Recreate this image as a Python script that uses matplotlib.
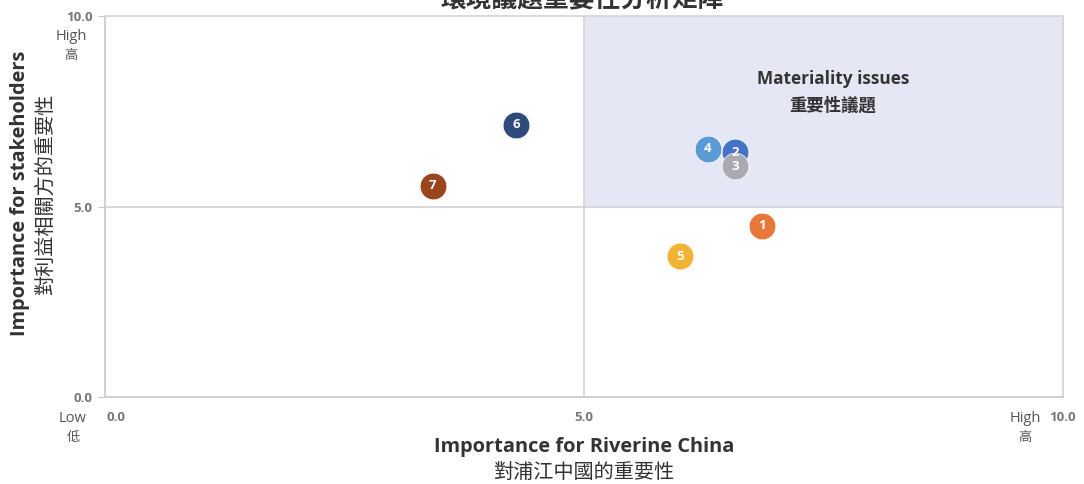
import matplotlib
matplotlib.use("Agg")
import matplotlib.pyplot as plt
from matplotlib.patches import Rectangle

plt.rcParams['font.family'] = ['Open Sans', 'Noto Sans CJK TC', 'DejaVu Sans']

# 議題資料
issue_ids = ['1', '2', '3', '4', '5', '6', '7']
x_company = [6.86, 6.58, 6.58, 6.29, 6.00, 4.29, 3.42]
y_stakeholder = [4.49, 6.43, 6.06, 6.51, 3.70, 7.14, 5.54]
colors = ['#E8773A', '#4472C4', '#A9A9B1', '#5B9BD5', '#F2B233', '#2F4B7C', '#99451F']
draw_order = [0, 4, 5, 6, 3, 1, 2]

x_ticks = [0, 5, 10]
y_ticks = [0, 5, 10]
tick_labels = ['0.0', '5.0', '10.0']

title = '環境議題重要性分析矩陣'
quad_title = ['Materiality issues', '重要性議題']
x_title = ['Importance for Riverine China', '對浦江中國的重要性']
y_title = ['Importance for stakeholders', '對利益相關方的重要性']

fig = plt.figure(figsize=(10.84, 4.84), dpi=100)
ax = fig.add_axes([105 / 1084, 87 / 484, 958 / 1084, 381 / 484])
ax.set_xlim(0, 10)
ax.set_ylim(0, 10)

# 高重要性區域
ax.add_patch(Rectangle((5, 5), 5, 5, facecolor='#E5E7F4', edgecolor='none', zorder=0))
ax.axvline(5, color='#D3D3D8', lw=1.2, zorder=1)
ax.axhline(5, color='#D3D3D8', lw=1.2, zorder=1)

for s in ax.spines.values():
    s.set_color('#D3D3D8')
    s.set_linewidth(1.2)
ax.spines['left'].set_color('#C8C8C8')
ax.spines['bottom'].set_color('#C8C8C8')

for i in draw_order:
    ax.scatter(x_company[i], y_stakeholder[i], s=370, color=colors[i], edgecolor='white',
               linewidth=0.5, zorder=3)
    ax.text(x_company[i], y_stakeholder[i], issue_ids[i], ha='center', va='center',
            color='white', fontsize=9.5, fontweight='bold', zorder=4)

ax.set_xticks(x_ticks)
ax.set_yticks(y_ticks)
ax.set_xticklabels([])
ax.set_yticklabels(tick_labels, fontsize=9.5, fontweight='bold', color='#777777')
ax.tick_params(axis='y', length=5, color='#C8C8C8', pad=4)
ax.tick_params(axis='x', length=0)

for v, lab in zip(x_ticks, tick_labels):
    xx = v + 0.12 if v == 0 else v
    ax.text(xx, -0.55, lab, ha='center', va='center', fontsize=9.5, fontweight='bold',
            color='#777777', transform=ax.transData, clip_on=False)

fig.text(73 / 1084, 1 - 419 / 484, 'Low', ha='center', va='center', fontsize=10.5, color='#555555')
fig.text(73 / 1084, 1 - 438 / 484, '低', ha='center', va='center', fontsize=9.5, color='#555555')
fig.text(1025 / 1084, 1 - 419 / 484, 'High', ha='center', va='center', fontsize=10.5, color='#555555')
fig.text(1025 / 1084, 1 - 438 / 484, '高', ha='center', va='center', fontsize=9.5, color='#555555')
fig.text(71 / 1084, 1 - 36 / 484, 'High', ha='center', va='center', fontsize=10.5, color='#555555')
fig.text(71 / 1084, 1 - 56 / 484, '高', ha='center', va='center', fontsize=9.5, color='#555555')

ax.text(7.6, 8.34, quad_title[0], ha='center', va='center', fontsize=12.4, fontweight='bold', color='#333333')
ax.text(7.6, 7.66, quad_title[1], ha='center', va='center', fontsize=12.5, fontweight='bold', color='#333333')

fig.text(584 / 1084, 1 - 447 / 484, x_title[0], ha='center', va='center', fontsize=14.4, fontweight='bold', color='#333333')
fig.text(584 / 1084, 1 - 473 / 484, x_title[1], ha='center', va='center', fontsize=14.5, fontweight='medium', color='#333333')
fig.text(20 / 1084, 1 - 193 / 484, y_title[0], ha='center', va='center', rotation=90, fontsize=14.4, fontweight='bold', color='#333333')
fig.text(46 / 1084, 1 - 194 / 484, y_title[1], ha='center', va='center', rotation=90, fontsize=14.5, fontweight='medium', color='#333333')

fig.text(582 / 1084, 1 + 1 / 484, title, ha='center', va='center', fontsize=18.5, fontweight='bold', color='#333333')

fig.savefig('out.png', dpi=100)
